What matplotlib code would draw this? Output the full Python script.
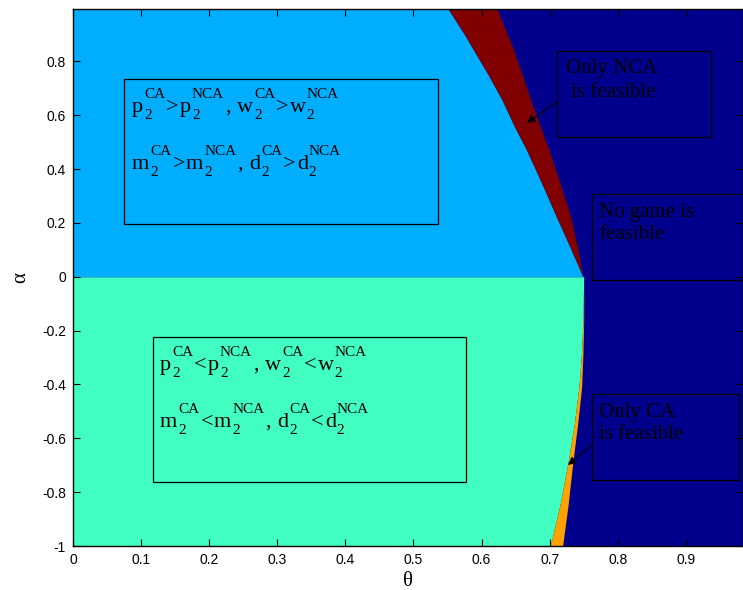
import matplotlib
matplotlib.use("Agg")
import matplotlib.pyplot as plt
from matplotlib.patches import Rectangle
from matplotlib.transforms import IdentityTransform

plt.rcParams['mathtext.fontset'] = 'custom'
plt.rcParams['mathtext.rm'] = 'Liberation Serif'
plt.rcParams['mathtext.it'] = 'Liberation Serif:italic'
plt.rcParams['mathtext.bf'] = 'Liberation Serif:bold'

# ---- data (boundaries) ----
alpha_top = [0.995, 0.90, 0.844, 0.75, 0.658, 0.56, 0.472, 0.35, 0.223, 0.11, 0.0]
theta_nca_left = [0.551, 0.575, 0.588, 0.610, 0.630, 0.648, 0.666, 0.688, 0.710, 0.730, 0.749]
theta_nca_right = [0.623, 0.638, 0.647, 0.660, 0.672, 0.686, 0.699, 0.715, 0.731, 0.741, 0.749]

alpha_bot = [0.0, -0.16, -0.28, -0.41, -0.55, -0.69, -0.85, -1.0]
theta_ca_left = [0.750, 0.749, 0.747, 0.743, 0.736, 0.727, 0.715, 0.701]
theta_ca_right = [0.750, 0.750, 0.749, 0.747, 0.741, 0.734, 0.727, 0.719]

x_ticks = [0, 0.1, 0.2, 0.3, 0.4, 0.5, 0.6, 0.7, 0.8, 0.9]
x_ticklabels = ['0', '0.1', '0.2', '0.3', '0.4', '0.5', '0.6', '0.7', '0.8', '0.9']
y_ticks = [-1, -0.8, -0.6, -0.4, -0.2, 0, 0.2, 0.4, 0.6, 0.8]
y_ticklabels = ['-1', '-0.8', '-0.6', '-0.4', '-0.2', '0', '0.2', '0.4', '0.6', '0.8']
x_range = [0, 0.984]
y_range = [-1, 0.995]

c_navy = '#00008C'
c_lblue = '#00AEFF'
c_aqua = '#40FFC0'
c_red = '#800000'
c_orange = '#FFA200'

W, H = 743, 590
fig = plt.figure(figsize=(W / 100, H / 100), dpi=100)
L, R, T, B = 73, 743, 9, 546
ax = fig.add_axes([L / W, (H - B) / H, (R - L) / W, (B - T) / H])
ax.set_facecolor(c_navy)

ax.fill_betweenx(alpha_top, [x_range[0]] * len(alpha_top), theta_nca_left, color=c_lblue, lw=0)
ax.fill_betweenx(alpha_top, theta_nca_left, theta_nca_right, color=c_red, lw=0)
ax.fill_betweenx(alpha_bot, [x_range[0]] * len(alpha_bot), theta_ca_left, color=c_aqua, lw=0)
ax.fill_betweenx(alpha_bot, theta_ca_left, theta_ca_right, color=c_orange, lw=0)

ax.set_xlim(x_range)
ax.set_ylim(y_range)
ax.set_xticks(x_ticks)
ax.set_xticklabels(x_ticklabels)
ax.set_yticks(y_ticks)
ax.set_yticklabels(y_ticklabels)
ax.tick_params(direction='in', length=5, width=0.8, top=True, right=True,
               labelsize=10, pad=5)
for lab in ax.get_xticklabels() + ax.get_yticklabels():
    lab.set_fontfamily('Liberation Sans')
for s in ax.spines.values():
    s.set_linewidth(1.0)

ax.set_xlabel(r'$\mathrm{\theta}$', fontsize=15, labelpad=2)
ax.set_ylabel(r'$\mathrm{\alpha}$', fontsize=15, labelpad=9)


def fx(px):
    return (px - L) / (R - L)


def fy(py):
    return (B - py) / (B - T)


def box(x0, y0, x1, y1):
    ax.add_patch(Rectangle((fx(x0), fy(y1)), fx(x1) - fx(x0), fy(y0) - fy(y1),
                           transform=ax.transAxes, fill=False, ec='black', lw=0.9,
                           clip_on=False))


def txt(px, py, s, va='baseline', size=15):
    ax.text(fx(px), fy(py), s, transform=ax.transAxes, fontsize=size,
            family='Liberation Serif', va=va, ha='left', color='black')


renderer = fig.canvas.get_renderer()
MAIN, SCRIPT = 16, 11
SUP_UP, SUB_DN = 14, 7


def put(px, py, s, size):
    t = fig.text(px, H - py, s, transform=IdentityTransform(), fontsize=size,
                 family='Liberation Serif', va='baseline', ha='left', color='black')
    return t.get_window_extent(renderer).width


def rich_line(px, py, tokens):
    cur = px
    for tok in tokens:
        if len(tok) == 1:
            s = tok[0]
            if s == ',':
                cur += put(cur, py, ',', MAIN) + 0.28 * MAIN * 100 / 72
            else:
                cur += put(cur, py, s, MAIN) + 1
        else:
            sub, sup = tok
            w1 = put(cur, py + SUB_DN, sub, SCRIPT)
            w2 = put(cur, py - SUP_UP, sup, SCRIPT)
            cur += max(w1, w2) + 1


def relation_lines(rel):
    l1 = [('p',), ('2', 'CA'), (rel,), ('p',), ('2', 'NCA'), (',',),
          ('w',), ('2', 'CA'), (rel,), ('w',), ('2', 'NCA')]
    l2 = [('m',), ('2', 'CA'), (rel,), ('m',), ('2', 'NCA'), (',',),
          ('d',), ('2', 'CA'), (rel,), ('d',), ('2', 'NCA')]
    return l1, l2


box(124, 79, 438, 224)
g1, g2 = relation_lines('>')
rich_line(132, 112, g1)
rich_line(132, 169, g2)

box(153, 337, 466, 482)
s1, s2 = relation_lines('<')
rich_line(160, 370, s1)
rich_line(160, 427, s2)

box(557, 51, 711, 137)
txt(566, 73, 'Only NCA')
txt(566, 97, ' is feasible')

box(592, 194, 770, 280)
txt(599, 217, 'No game is')
txt(599, 239, 'feasible')

box(592, 394, 739, 480)
txt(599, 417, 'Only CA')
txt(599, 439, 'is feasible')

arrow_kw = dict(arrowstyle='-|>', color='black', lw=0.8, mutation_scale=12,
                shrinkA=0, shrinkB=0)
ax.annotate('', xy=(fx(527), fy(123)), xytext=(fx(558), fy(101)),
            xycoords='axes fraction', textcoords='axes fraction', arrowprops=arrow_kw)
ax.annotate('', xy=(fx(568), fy(465)), xytext=(fx(592), fy(445)),
            xycoords='axes fraction', textcoords='axes fraction', arrowprops=arrow_kw)

fig.savefig('out.png', dpi=100)
